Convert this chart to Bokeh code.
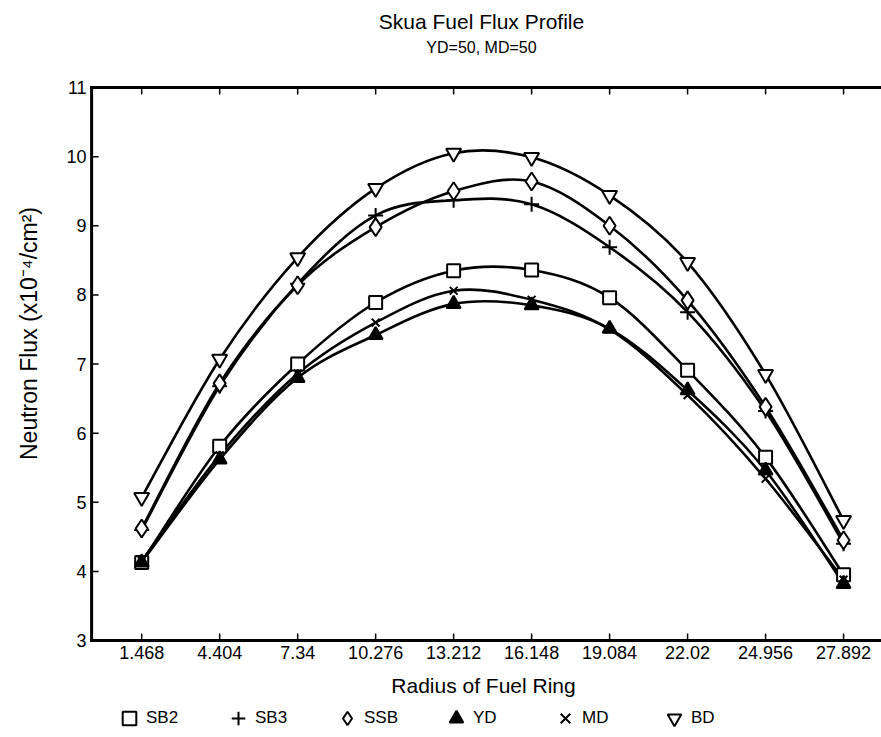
import math
from bokeh.plotting import figure
from bokeh.models import Range1d, Label, Legend, LegendItem, ColumnDataSource
from bokeh.embed import file_html
from bokeh.resources import INLINE

# ---- data ----
radius = [1.468, 4.404, 7.34, 10.276, 13.212, 16.148, 19.084, 22.02, 24.956, 27.892]
radius_labels = ["1.468", "4.404", "7.34", "10.276", "13.212", "16.148", "19.084", "22.02", "24.956", "27.892"]
sb2 = [4.13, 5.81, 7.00, 7.89, 8.35, 8.36, 7.96, 6.91, 5.65, 3.95]
sb3 = [4.60, 6.68, 8.16, 9.15, 9.37, 9.31, 8.69, 7.75, 6.32, 4.40]
ssb = [4.62, 6.72, 8.14, 8.98, 9.50, 9.64, 9.00, 7.92, 6.38, 4.45]
yd = [4.13, 5.62, 6.80, 7.42, 7.87, 7.85, 7.51, 6.62, 5.46, 3.82]
md = [4.15, 5.68, 6.86, 7.60, 8.06, 7.93, 7.50, 6.55, 5.34, 3.88]
bd = [5.07, 7.07, 8.54, 9.54, 10.05, 9.99, 9.44, 8.47, 6.85, 4.74]
y_ticks = [3, 4, 5, 6, 7, 8, 9, 10, 11]
y_tick_labels = ["3", "4", "5", "6", "7", "8", "9", "10", "11"]

FONT = "Liberation Sans"
W, H = 881, 737
# axis box in data units (left edge, bottom, top); right side runs off the page
X_AX, Y_LO, Y_HI = -0.417, 3, 11
# the page spans the plot area so that texts and the legend around the box are all drawn
X0, X1 = -3.847, 29.32
Y0, Y1 = 1.597, 12.259
PX_X = W / (X1 - X0)   # pixels per x unit
PX_Y = H / (Y1 - Y0)   # pixels per y unit

p = figure(width=W, height=H, output_backend="svg", toolbar_location=None,
           x_range=Range1d(X0, X1), y_range=Range1d(Y0, Y1),
           x_axis_location=None, y_axis_location=None, min_border=0)
p.outline_line_color = None
p.background_fill_color = "white"
p.border_fill_color = "white"
p.xgrid.grid_line_color = None
p.ygrid.grid_line_color = None

# axis lines (left, bottom, top)
p.segment(x0=[X_AX, X_AX, X_AX], y0=[Y_LO, Y_LO, Y_HI], x1=[X_AX, X1, X1], y1=[Y_HI, Y_LO, Y_HI],
          line_color="black", line_width=3, line_cap="square")
# inward ticks
tick = 7
p.segment(x0=radius, y0=[Y_LO] * len(radius), x1=radius, y1=[Y_LO + tick / PX_Y] * len(radius),
          line_color="black", line_width=1.5)
p.segment(x0=radius, y0=[Y_HI] * len(radius), x1=radius, y1=[Y_HI - tick / PX_Y] * len(radius),
          line_color="black", line_width=1.5)
p.segment(x0=[X_AX] * len(y_ticks), y0=y_ticks, x1=[X_AX + tick / PX_X] * len(y_ticks), y1=y_ticks,
          line_color="black", line_width=1.5)
# tick labels
p.text(x=radius, y=[Y_LO] * len(radius), text=radius_labels, text_align="center", text_baseline="top",
       y_offset=5, text_font={"value": FONT}, text_font_size={"value": "18px"}, text_color="black")
p.text(x=[X_AX] * len(y_ticks), y=y_ticks, text=y_tick_labels, text_align="right", text_baseline="middle",
       x_offset=-5, text_font={"value": FONT}, text_font_size={"value": "18px"}, text_color="black")

# smooth curves (Catmull-Rom as cubic beziers) through the data points
def bez(xs, ys):
    n = len(xs)
    d = dict(x0=[], y0=[], x1=[], y1=[], cx0=[], cy0=[], cx1=[], cy1=[])
    for i in range(n - 1):
        xm, ym = (xs[i - 1], ys[i - 1]) if i > 0 else (xs[i], ys[i])
        xp, yp = (xs[i + 2], ys[i + 2]) if i + 2 < n else (xs[i + 1], ys[i + 1])
        d["x0"].append(xs[i]); d["y0"].append(ys[i])
        d["x1"].append(xs[i + 1]); d["y1"].append(ys[i + 1])
        d["cx0"].append(xs[i] + (xs[i + 1] - xm) / 6); d["cy0"].append(ys[i] + (ys[i + 1] - ym) / 6)
        d["cx1"].append(xs[i + 1] - (xp - xs[i]) / 6); d["cy1"].append(ys[i + 1] - (yp - ys[i]) / 6)
    return ColumnDataSource(d)

series = [
    ("SB2", sb2, "square", 13, "white"),
    ("SB3", sb3, "cross", 15, "black"),
    ("SSB", ssb, "diamond", 18, "white"),
    ("YD", yd, "triangle", 14, "black"),
    ("MD", md, "x", 11, "black"),
    ("BD", bd, "inverted_triangle", 15, "white"),
]

for name, ys, m, s, fc in series:
    p.bezier(x0="x0", y0="y0", x1="x1", y1="y1", cx0="cx0", cy0="cy0", cx1="cx1", cy1="cy1",
             source=bez(radius, ys), line_color="black", line_width=2.6)

items = []
for name, ys, m, s, fc in series:
    r = p.scatter(radius, ys, marker=m, size=s, fill_color=fc, line_color="black", line_width=2)
    items.append(LegendItem(label=name, renderers=[r]))

legend = Legend(items=items, orientation="horizontal", location=(112, 2),
                label_text_font=FONT, label_text_font_size="17px", label_text_color="black",
                glyph_width=34, glyph_height=34, label_standoff=0, label_width=60, spacing=15,
                padding=0, margin=0, border_line_color=None, background_fill_alpha=0)
p.add_layout(legend, "center")

def lab(px, py, text, size, angle=0.0):
    p.add_layout(Label(x=px, y=H - py, x_units="screen", y_units="screen", angle=angle,
                       text=text, text_align="center", text_baseline="middle",
                       text_font=FONT, text_font_size=size, text_color="black"))

lab(481, 21, "Skua Fuel Flux Profile", "21px")
lab(481, 47, "YD=50, MD=50", "16px")
lab(483, 685, "Radius of Fuel Ring", "21px")
lab(28, 333, "Neutron Flux (x10\u207b\u2074/cm\u00b2)", "23px", math.pi / 2)

open("out.html", "w").write(file_html(p, INLINE))
